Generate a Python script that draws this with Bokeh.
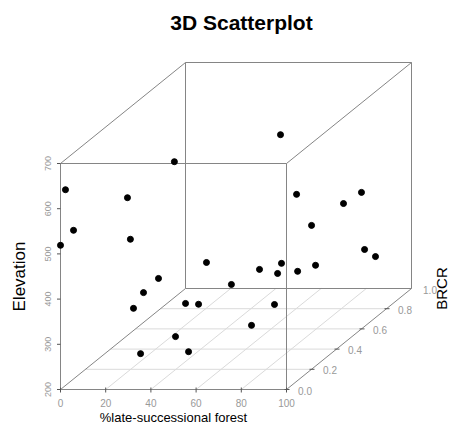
import numpy as np
from bokeh.plotting import figure
from bokeh.models import Range1d, ColumnDataSource
from bokeh.core.properties import value
from bokeh.embed import file_html
from bokeh.resources import INLINE

# ---- data ----
late_forest = [33.8, 2.2, 24.1, 3.0, 25.4, 0.0, 53.1, 76.8, 83.4, 86.5,
               77.9, 90.3, 48.0, 32.3, 31.2, 24.0, 33.2, 36.2, 34.3, 45.6,
               29.9, 89.6, 60.4, 64.6, 68.4, 66.2, 68.6, 53.5, 61.5, 54.1]
brcr = [0.30, 0.00, 0.10, 0.05, 0.10, 0.00, 0.80, 0.50, 0.90, 0.70,
        0.60, 0.80, 0.30, 0.20, 0.10, 0.15, 0.40, 0.45, 0.30, 0.20,
        0.10, 0.90, 0.50, 0.60, 0.50, 0.70, 0.80, 0.40, 0.60, 0.55]
elevation = [637, 642, 602, 541, 510, 519, 585, 520, 435, 455,
             429, 331, 414, 401, 392, 346, 301, 288, 250, 239,
             257, 293, 354, 345, 345, 305, 296, 343, 254, 219]

x_ticks = [0, 20, 40, 60, 80, 100]
brcr_ticks = [0.0, 0.2, 0.4, 0.6, 0.8, 1.0]
brcr_labels = ["0.0", "0.2", "0.4", "0.6", "0.8", "1.0"]
elev_ticks = [200, 300, 400, 500, 600, 700]

title = "3D Scatterplot"
x_title = "%late-successional forest"
y_title = "BRCR"
z_title = "Elevation"

# ---- projection (layout) ----
XMIN, XMAX = 0, 100
BMIN, BMAX = 0.0, 1.0
ZMIN, ZMAX = 200, 700
X0, Y0 = 60.0, 389.0
SX = 226.0 / (XMAX - XMIN)
SZ = 226.0 / (ZMAX - ZMIN)
DX, DY = 125.0, 101.0

W, H = 450, 424


def proj(x, b, z):
    x = np.asarray(x, float)
    b = np.asarray(b, float)
    z = np.asarray(z, float)
    return X0 + SX * (x - XMIN) + DX * (b - BMIN), Y0 - SZ * (z - ZMIN) - DY * (b - BMIN)


p = figure(width=W, height=H, output_backend="svg", toolbar_location=None,
           x_range=Range1d(0, W), y_range=Range1d(H, 0),
           min_border=0, tools="")
p.axis.visible = False
p.grid.visible = False
p.outline_line_color = None
p.background_fill_color = "white"
p.border_fill_color = "white"

GRID = "#dadada"
BOX = "#858585"
TICKC = "#555555"
LABC = "#999999"
FONT = "Liberation Sans"

# bottom grid
gx0, gy0, gx1, gy1 = [], [], [], []
for t in x_ticks[1:-1]:
    a = proj(t, BMIN, ZMIN); c = proj(t, BMAX, ZMIN)
    gx0.append(float(a[0])); gy0.append(float(a[1])); gx1.append(float(c[0])); gy1.append(float(c[1]))
for t in brcr_ticks[1:-1]:
    a = proj(XMIN, t, ZMIN); c = proj(XMAX, t, ZMIN)
    gx0.append(float(a[0])); gy0.append(float(a[1])); gx1.append(float(c[0])); gy1.append(float(c[1]))
p.segment(gx0, gy0, gx1, gy1, line_color=GRID, line_width=1)

# box edges
corners = {}
for xi in (XMIN, XMAX):
    for bi in (BMIN, BMAX):
        for zi in (ZMIN, ZMAX):
            corners[(xi, bi, zi)] = proj(xi, bi, zi)
ex0, ey0, ex1, ey1 = [], [], [], []
keys = list(corners.keys())
for i in range(len(keys)):
    for j in range(i + 1, len(keys)):
        diff = sum(1 for a, c in zip(keys[i], keys[j]) if a != c)
        if diff == 1:
            a = corners[keys[i]]; c = corners[keys[j]]
            ex0.append(float(a[0])); ey0.append(float(a[1]))
            ex1.append(float(c[0])); ey1.append(float(c[1]))
p.segment(ex0, ey0, ex1, ey1, line_color=BOX, line_width=1)

# x axis ticks + labels
xt = [proj(t, BMIN, ZMIN) for t in x_ticks]
p.segment([float(a[0]) for a in xt], [float(a[1]) - 2 for a in xt],
          [float(a[0]) for a in xt], [float(a[1]) + 3 for a in xt],
          line_color=TICKC, line_width=1)
p.text([float(a[0]) for a in xt], [float(a[1]) + 13.5 for a in xt], text=[str(t) for t in x_ticks],
       text_align="center", text_baseline="middle", text_font=value(FONT),
       text_font_size="10px", text_color=LABC)

# elevation ticks + labels
zt = [proj(XMIN, BMIN, t) for t in elev_ticks]
p.segment([float(a[0]) - 3.5 for a in zt], [float(a[1]) for a in zt],
          [float(a[0]) for a in zt], [float(a[1]) for a in zt],
          line_color=TICKC, line_width=1)
p.text([float(a[0]) - 13 for a in zt], [float(a[1]) for a in zt], text=[str(t) for t in elev_ticks],
       angle=np.pi / 2, text_align="center", text_baseline="middle", text_font=value(FONT),
       text_font_size="9px", text_color=LABC)

# BRCR ticks + labels
bt = [proj(XMAX, t, ZMIN) for t in brcr_ticks]
p.segment([float(a[0]) - 2 for a in bt[:-1]], [float(a[1]) for a in bt[:-1]],
          [float(a[0]) + 3 for a in bt[:-1]], [float(a[1]) for a in bt[:-1]],
          line_color=TICKC, line_width=1)
p.text([float(a[0]) + 18.5 for a in bt], [float(a[1]) + 1 for a in bt], text=brcr_labels,
       text_align="center", text_baseline="middle", text_font=value(FONT),
       text_font_size="10px", text_color=LABC)

# points
px, py = proj(late_forest, brcr, elevation)
src = ColumnDataSource(dict(x=px, y=py))
p.scatter("x", "y", source=src, size=6, fill_color="black", line_color="black")

# titles
p.text([241], [22], text=[title], text_align="center", text_baseline="middle",
       text_font=value(FONT), text_font_style="bold", text_font_size="21px", text_color="black")
p.text([173], [416.5], text=[x_title], text_align="center", text_baseline="alphabetic",
       text_font=value(FONT), text_font_size="13px", text_color="black")
p.text([18.5], [276], text=[z_title], angle=np.pi / 2, text_align="center", text_baseline="middle",
       text_font=value(FONT), text_font_size="17px", text_color="black")
p.text([441.3], [288], text=[y_title], angle=np.pi / 2, text_align="center", text_baseline="middle",
       text_font=value(FONT), text_font_size="15px", text_color="black")

open("out.html", "w").write(file_html(p, INLINE))
